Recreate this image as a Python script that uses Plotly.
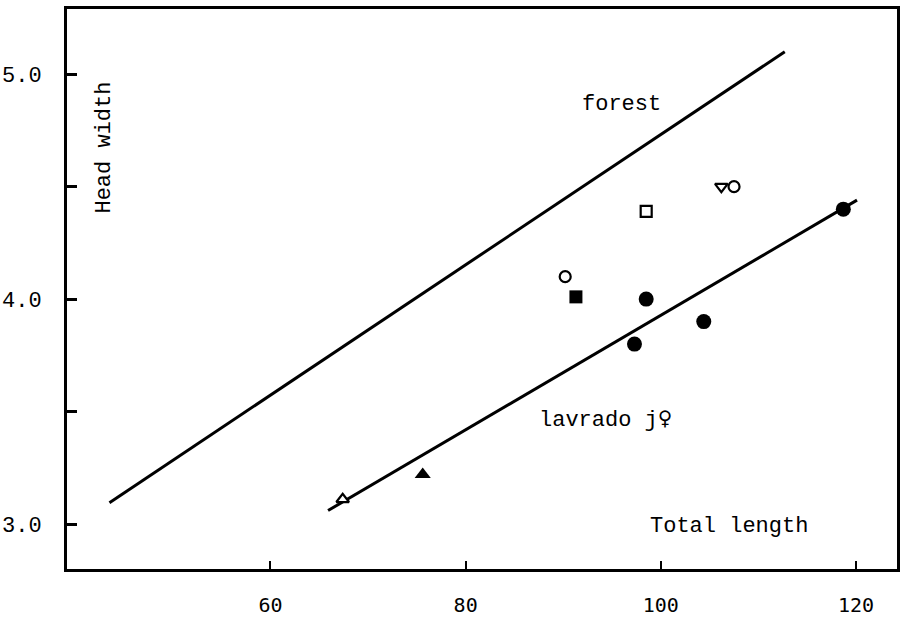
import plotly.graph_objects as go

# Regression lines (total length vs head width)
forest_x = [43.5, 112.7]
forest_y = [3.095, 5.10]
lavrado_x = [65.9, 120.1]
lavrado_y = [3.06, 4.44]

# Individual specimens, grouped by symbol
filled_circle_x = [98.5, 97.3, 104.4, 118.7]
filled_circle_y = [4.00, 3.80, 3.90, 4.40]
open_circle_x = [90.2, 107.5]
open_circle_y = [4.10, 4.50]
filled_square_x = [91.3]
filled_square_y = [4.01]
open_square_x = [98.5]
open_square_y = [4.39]
filled_triangle_x = [75.6]
filled_triangle_y = [3.22]
open_triangle_x = [67.4]
open_triangle_y = [3.11]
open_tri_down_x = [106.2]
open_tri_down_y = [4.50]

x_ticks = [60, 80, 100, 120]
y_ticks = [3.0, 3.5, 4.0, 4.5, 5.0]
y_tick_text = ["3.0", "", "4.0", "", "5.0"]

MONO = "Liberation Mono, Courier New, monospace"

fig = go.Figure()

for lx, ly in [(forest_x, forest_y), (lavrado_x, lavrado_y)]:
    fig.add_trace(go.Scatter(x=lx, y=ly, mode="lines",
                             line=dict(color="black", width=3), hoverinfo="skip"))

def add_points(xs, ys, symbol, size, filled):
    fig.add_trace(go.Scatter(
        x=xs, y=ys, mode="markers",
        marker=dict(symbol=symbol, size=size,
                    color="black" if filled else "white",
                    line=dict(color="black", width=0 if filled else 2.2))))

add_points(filled_circle_x, filled_circle_y, "circle", 15, True)
add_points(open_circle_x, open_circle_y, "circle", 11, False)
add_points(filled_square_x, filled_square_y, "square", 13, True)
add_points(open_square_x, open_square_y, "square", 11, False)
add_points(filled_triangle_x, filled_triangle_y, "triangle-up", 14, True)
add_points(open_triangle_x, open_triangle_y, "triangle-up", 11, False)
add_points(open_tri_down_x, open_tri_down_y, "triangle-down", 11, False)

text_font = dict(family=MONO, size=22, color="black")
fig.add_annotation(x=96.0, y=4.865, text="forest", showarrow=False, font=text_font)
fig.add_annotation(x=87.3, y=3.47,
                   text='lavrado j<span style="font-family:DejaVu Sans Mono;font-size:24px">♀</span>',
                   showarrow=False, font=text_font, xanchor="left")
fig.add_annotation(x=107.0, y=2.99, text="Total length", showarrow=False, font=text_font)
fig.add_annotation(x=43.0, y=4.672, text="Head width", showarrow=False,
                   font=text_font, textangle=-90)

fig.update_xaxes(range=[39.15, 124.2], tickvals=x_ticks,
                 ticks="inside", ticklen=8, tickwidth=2, tickcolor="black",
                 showline=True, linecolor="black", linewidth=3, mirror=True,
                 showgrid=False, zeroline=False, ticklabelstandoff=16,
                 tickfont=dict(family="DejaVu Sans Mono, monospace", size=20, color="black"))
fig.update_yaxes(range=[2.80, 5.29], tickvals=y_ticks, ticktext=y_tick_text,
                 ticks="inside", ticklen=10, tickwidth=3, tickcolor="black",
                 showline=True, linecolor="black", linewidth=3, mirror=True,
                 showgrid=False, zeroline=False, ticklabelstandoff=18,
                 tickfont=dict(family=MONO, size=22, color="black"))

fig.update_layout(width=902, height=619, showlegend=False,
                  margin=dict(l=64, r=2, t=9, b=36),
                  plot_bgcolor="white", paper_bgcolor="white")

fig.write_html("out.html")
